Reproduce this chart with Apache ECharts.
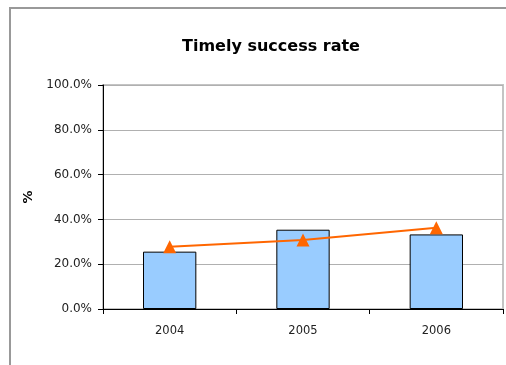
<!DOCTYPE html>
<html>
<head>
<meta charset="utf-8">
<script src="https://cdn.jsdelivr.net/npm/echarts@6/dist/echarts.min.js"></script>
<style>
  html, body { margin: 0; padding: 0; background: #fff; overflow: hidden; }
  #chart { width: 506px; height: 365px; }
</style>
</head>
<body>
<div id="chart"></div>
<script>
// data
const years = ['2004', '2005', '2006']
const barValues = [25.6, 35.4, 33.3]
const lineValues = [27.8, 30.8, 36.3]
const yTicks = [0, 20, 40, 60, 80, 100]

const myChart = echarts.init(document.getElementById('chart'))
const option = {
  animation: false,
  textStyle: { fontFamily: 'DejaVu Sans, Verdana, sans-serif' },
  title: {
    text: 'Timely success rate',
    left: 266,
    top: 34,
    textAlign: 'center',
    textStyle: { fontSize: 16, fontWeight: 'bold', color: '#000' }
  },
  // outer chart frame, only the top and left edges fall inside the window
  graphic: [{
    type: 'polyline',
    shape: { points: [[10, 400], [10, 8], [520, 8]] },
    style: { fill: null, stroke: '#999', lineWidth: 2 }
  }],
  grid: {
    left: 103,
    top: 85,
    width: 400,
    height: 224,
    show: true,
    borderColor: '#c4c4c4',
    borderWidth: 2
  },
  xAxis: {
    type: 'category',
    data: years,
    boundaryGap: true,
    axisLine: { lineStyle: { color: '#000', width: 1 } },
    axisTick: { show: true, alignWithLabel: false, length: 5, lineStyle: { color: '#000' } },
    axisLabel: { color: '#222', fontSize: 11.5, margin: 16 }
  },
  yAxis: {
    type: 'value',
    min: yTicks[0],
    max: yTicks[yTicks.length - 1],
    interval: 20,
    name: '%',
    nameLocation: 'middle',
    nameGap: 65,
    nameRotate: 90,
    nameTextStyle: { fontSize: 13, fontWeight: 'bold', color: '#000' },
    axisLine: { show: true, lineStyle: { color: '#000', width: 1 } },
    axisTick: { show: true, length: 5, lineStyle: { color: '#000' } },
    axisLabel: {
      color: '#222',
      fontSize: 12,
      margin: 11,
      formatter: v => v.toFixed(1) + '%'
    },
    splitLine: { show: true, lineStyle: { color: '#b0b0b0', width: 1 } }
  },
  series: [
    {
      name: 'rate',
      type: 'bar',
      data: barValues,
      barWidth: '40%',
      itemStyle: { color: '#99ccff', borderColor: '#000', borderWidth: 1 }
    },
    {
      name: 'trend',
      type: 'line',
      data: lineValues,
      symbol: 'triangle',
      symbolSize: 13,
      lineStyle: { color: '#ff6600', width: 2 },
      itemStyle: { color: '#ff6600' },
      z: 10
    }
  ]
}
myChart.setOption(option, true)
</script>
</body>
</html>
